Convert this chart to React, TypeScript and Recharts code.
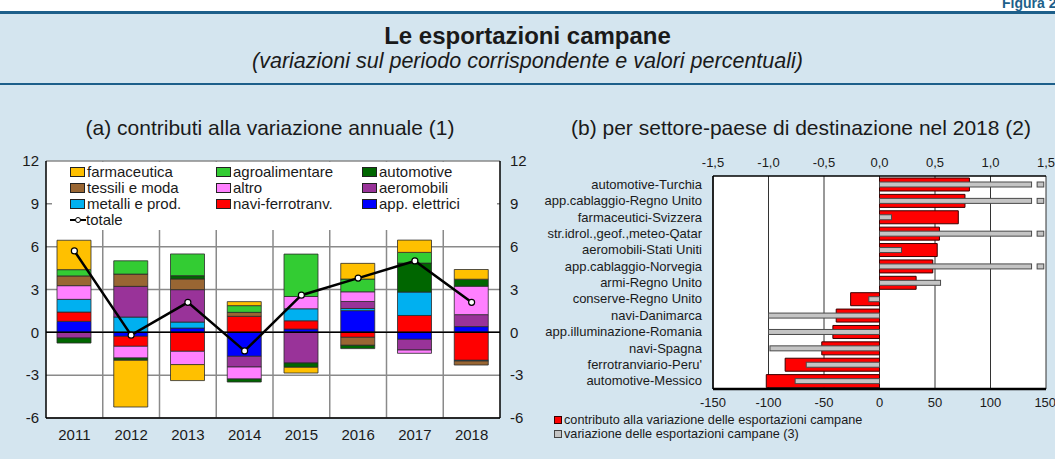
import React from 'react';
import {
  ComposedChart,
  Bar,
  Line,
  XAxis,
  YAxis,
  CartesianGrid,
  ReferenceLine,
} from 'recharts';

const FONT = '"Liberation Sans", Arial, Helvetica, sans-serif';
const BG = '#d4e5ef';
const NAVY = '#1d5f8a';
const INK = '#1a1a1a';

// (a) contributi alla variazione annuale
const years = ['2011', '2012', '2013', '2014', '2015', '2016', '2017', '2018'];
const elettrici = [0.77, -0.28, 0.3, -1.68, 0.23, 1.52, -0.49, 0.4];
const navi = [0.65, -0.7, -1.33, 1.12, 0.58, -0.35, 1.18, -1.96];
const metalli = [0.89, 1.07, 0.42, 0, 0.84, 0.15, 1.64, -0.05];
const aeromobili = [-0.4, 2.15, 2.27, -0.75, -2.15, 0.49, -0.75, 0.84];
const altro = [0.96, -0.82, -0.93, -0.84, 0.86, 0.68, -0.23, 1.99];
const tessili = [0.68, 0.86, 0.75, 0.28, 0, -0.56, 0, -0.28];
const automotive = [-0.35, -0.16, 0.23, -0.21, -0.3, -0.23, 2.03, 0.49];
const agroalimentare = [0.44, 0.93, 1.52, 0.47, 2.97, 0.89, 0.75, 0];
const farmaceutica = [2.06, -3.27, -1.12, 0.28, -0.4, 1.1, 0.86, 0.68];
const totale = [5.7, -0.2, 2.1, -1.3, 2.6, 3.8, 5.0, 2.1];
const leftTicks = [-6, -3, 0, 3, 6, 9, 12];

// (b) per settore-paese di destinazione nel 2018
const sectors = [
  'automotive-Turchia',
  'app.cablaggio-Regno Unito',
  'farmaceutici-Svizzera',
  'str.idrol.,geof.,meteo-Qatar',
  'aeromobili-Stati Uniti',
  'app.cablaggio-Norvegia',
  'armi-Regno Unito',
  'conserve-Regno Unito',
  'navi-Danimarca',
  'app.illuminazione-Romania',
  'navi-Spagna',
  "ferrotranviario-Peru'",
  'automotive-Messico',
];
const contributo = [0.81, 0.77, 0.71, 0.54, 0.52, 0.48, 0.33, -0.26, -0.39, -0.42, -0.52, -0.85, -1.02];
const variazione = [180, 175, 10.8, 170, 19.8, 190, 55, -9.6, -100, -100, -98.7, -66, -76];
const topTicks = [-1.5, -1, -0.5, 0, 0.5, 1, 1.5];
const bottomTicks = [-150, -100, -50, 0, 50, 100, 150];

// stacking order: first series sits next to zero
const SERIES = [
  { key: 'elettrici', name: 'app. elettrici', color: '#0000ff', values: elettrici },
  { key: 'navi', name: 'navi-ferrotranv.', color: '#ff0000', values: navi },
  { key: 'metalli', name: 'metalli e prod.', color: '#00b0f0', values: metalli },
  { key: 'aeromobili', name: 'aeromobili', color: '#993399', values: aeromobili },
  { key: 'altro', name: 'altro', color: '#ff80ff', values: altro },
  { key: 'tessili', name: 'tessili e moda', color: '#996633', values: tessili },
  { key: 'automotive', name: 'automotive', color: '#006600', values: automotive },
  { key: 'agroalimentare', name: 'agroalimentare', color: '#33cc33', values: agroalimentare },
  { key: 'farmaceutica', name: 'farmaceutica', color: '#ffc000', values: farmaceutica },
];

const LEGEND_ROWS = [
  ['farmaceutica', 'agroalimentare', 'automotive'],
  ['tessili', 'altro', 'aeromobili'],
  ['metalli', 'navi', 'elettrici'],
];

const leftData = years.map((year, i) => {
  const row: Record<string, number | string> = { year, totale: totale[i] };
  SERIES.forEach((s) => {
    row[s.key] = s.values[i];
  });
  return row;
});

const rightData = sectors.map((sector, i) => ({
  sector,
  contributo: contributo[i],
  variazione: variazione[i],
}));

const fmtComma = (v: number) => v.toFixed(1).replace('.', ',');

// grey bar: values beyond the axis are drawn broken
const BrokenBar = (props: any) => {
  const { x, y, width, height, payload, fill, stroke } = props;
  const v = payload?.variazione ?? 0;
  if (v > 150 && width > 0) {
    const ppu = width / v;
    return (
      <g>
        <rect x={x} y={y} width={137 * ppu} height={height} fill={fill} stroke={stroke} strokeWidth={1} />
        <rect x={x + 142 * ppu} y={y} width={6 * ppu} height={height} fill={fill} stroke={stroke} strokeWidth={1} />
      </g>
    );
  }
  const rx = Math.min(x, x + width);
  return <rect x={rx} y={y} width={Math.abs(width)} height={height} fill={fill} stroke={stroke} strokeWidth={1} />;
};

const boundaryLines = (props: any) => {
  const o = props?.offset;
  if (!o) return [];
  return years.slice(1).map((_, i) => o.left + ((i + 1) * o.width) / years.length);
};

const Swatch = ({ color }: { color: string }) => (
  <span
    style={{
      display: 'inline-block',
      width: 13,
      height: 8,
      background: color,
      border: '1px solid #222',
      marginRight: 2,
      verticalAlign: 'middle',
      position: 'relative',
      top: -1,
    }}
  />
);

const LeftLegend = () => (
  <div
    style={{
      position: 'absolute',
      left: 52,
      top: 162,
      width: 445,
      height: 68,
      background: '#fff',
      fontSize: 15,
      color: INK,
    }}
  >
    {LEGEND_ROWS.map((row, r) =>
      row.map((key, c) => {
        const s = SERIES.find((x) => x.key === key)!;
        return (
          <div
            key={key}
            style={{ position: 'absolute', left: 18 + c * 146, top: 2 + r * 16, lineHeight: '16px', whiteSpace: 'nowrap' }}
          >
            <Swatch color={s.color} />
            {s.name}
          </div>
        );
      })
    )}
    <div style={{ position: 'absolute', left: 18, top: 50, lineHeight: '16px' }}>
      <svg width={16} height={10} style={{ verticalAlign: 'middle', position: 'relative', top: -1 }}>
        <line x1={0} y1={5} x2={16} y2={5} stroke="#000" strokeWidth={2} />
        <circle cx={8} cy={5} r={2.5} fill="#fff" stroke="#000" strokeWidth={1} />
      </svg>
      totale
    </div>
  </div>
);

export default function App() {
  return (
    <div
      style={{
        position: 'absolute',
        left: 0,
        top: 0,
        width: 1055,
        height: 459,
        background: BG,
        fontFamily: FONT,
        overflow: 'hidden',
        color: INK,
      }}
    >
      <div style={{ position: 'absolute', left: 0, top: 0, width: 1055, height: 11, background: '#fff' }} />
      <div
        style={{
          position: 'absolute',
          left: 1002,
          top: -5,
          fontSize: 14,
          lineHeight: '16px',
          fontWeight: 'bold',
          color: NAVY,
          whiteSpace: 'nowrap',
        }}
      >
        Figura 2.13
      </div>
      <div style={{ position: 'absolute', left: 0, top: 11, width: 1055, height: 2.5, background: NAVY }} />
      <div style={{ position: 'absolute', left: 0, top: 83, width: 1055, height: 2, background: NAVY }} />
      <div
        style={{
          position: 'absolute',
          left: 0,
          top: 22,
          width: 1055,
          textAlign: 'center',
          fontSize: 24,
          lineHeight: '28px',
          fontWeight: 'bold',
        }}
      >
        Le esportazioni campane
      </div>
      <div
        style={{
          position: 'absolute',
          left: 0,
          top: 48,
          width: 1055,
          textAlign: 'center',
          fontSize: 21.5,
          lineHeight: '26px',
          fontStyle: 'italic',
        }}
      >
        (variazioni sul periodo corrispondente e valori percentuali)
      </div>
      <div
        style={{ position: 'absolute', left: 20, top: 116, width: 500, textAlign: 'center', fontSize: 21, lineHeight: '24px' }}
      >
        (a) contributi alla variazione annuale (1)
      </div>
      <div
        style={{ position: 'absolute', left: 551, top: 116, width: 500, textAlign: 'center', fontSize: 21, lineHeight: '24px' }}
      >
        (b) per settore-paese di destinazione nel 2018 (2)
      </div>

      <div style={{ position: 'absolute', left: 0, top: 0 }}>
        <ComposedChart
          width={540}
          height={459}
          data={leftData}
          stackOffset="sign"
          barSize={34}
          margin={{ top: 161, right: 0, bottom: 11, left: 6 }}
        >
          <CartesianGrid
            xAxisId="b"
            yAxisId="l"
            fill="#fff"
            stroke="#8a8a8a"
            strokeWidth={1.5}
            verticalCoordinatesGenerator={boundaryLines}
          />
          <XAxis
            xAxisId="b"
            dataKey="year"
            height={30}
            tickSize={0}
            tickMargin={11}
            axisLine={{ stroke: '#000', strokeWidth: 1.5 }}
            tick={{ fill: INK, fontSize: 15 }}
          />
          <XAxis
            xAxisId="t"
            orientation="top"
            dataKey="year"
            height={0}
            tick={false}
            tickLine={false}
            axisLine={{ stroke: '#000', strokeWidth: 1.5 }}
          />
          <YAxis
            yAxisId="l"
            domain={[-6, 12]}
            ticks={leftTicks}
            width={40}
            tickSize={0}
            tickMargin={7}
            axisLine={{ stroke: '#000', strokeWidth: 1.5 }}
            tick={{ fill: INK, fontSize: 15 }}
          />
          <YAxis
            yAxisId="r"
            orientation="right"
            domain={[-6, 12]}
            ticks={leftTicks}
            allowDataOverflow
            width={40}
            tickSize={0}
            tickMargin={10}
            axisLine={{ stroke: '#000', strokeWidth: 1.5 }}
            tick={{ fill: INK, fontSize: 15, textAnchor: 'start' }}
          />
          <ReferenceLine xAxisId="b" yAxisId="l" y={0} stroke="#000" strokeWidth={1.5} />
          {SERIES.map((s) => (
            <Bar
              key={s.key}
              xAxisId="b"
              yAxisId="l"
              dataKey={s.key}
              name={s.name}
              stackId="a"
              fill={s.color}
              stroke="#2b2b2b"
              strokeWidth={0.8}
              isAnimationActive={false}
            />
          ))}
          <Line
            xAxisId="b"
            yAxisId="l"
            dataKey="totale"
            stroke="#000"
            strokeWidth={2.5}
            dot={{ r: 3, fill: '#fff', stroke: '#000', strokeWidth: 1.2 }}
            isAnimationActive={false}
          />
        </ComposedChart>
      </div>
      <LeftLegend />

      <div style={{ position: 'absolute', left: 530, top: 140 }}>
        <ComposedChart
          layout="vertical"
          width={525}
          height={319}
          data={rightData}
          margin={{ top: 12, right: 9, bottom: 50, left: 5 }}
        >
          <CartesianGrid xAxisId="top" yAxisId="cat" horizontal={false} fill="#fff" stroke="#333" strokeWidth={1} />
          <XAxis
            xAxisId="top"
            orientation="top"
            type="number"
            domain={[-1.5, 1.5]}
            ticks={topTicks}
            allowDataOverflow
            height={24}
            tickSize={0}
            tickMargin={9}
            tickFormatter={fmtComma}
            axisLine={{ stroke: '#000', strokeWidth: 1.5 }}
            tick={{ fill: INK, fontSize: 13 }}
          />
          <XAxis
            xAxisId="bot"
            type="number"
            domain={[-150, 150]}
            ticks={bottomTicks}
            allowDataOverflow
            height={20}
            tickSize={0}
            tickMargin={9}
            axisLine={{ stroke: '#000', strokeWidth: 2.5 }}
            tick={{ fill: INK, fontSize: 13 }}
          />
          <YAxis
            yAxisId="cat"
            type="category"
            dataKey="sector"
            width={178}
            interval={0}
            tickSize={0}
            tickMargin={11}
            axisLine={{ stroke: '#000', strokeWidth: 1.5 }}
            tick={{ fill: INK, fontSize: 13 }}
          />
          <YAxis
            yAxisId="cat2"
            orientation="right"
            type="category"
            dataKey="sector"
            width={0}
            tick={false}
            tickLine={false}
            axisLine={{ stroke: '#000', strokeWidth: 1.5 }}
          />
          <Bar
            xAxisId="top"
            yAxisId="cat"
            dataKey="contributo"
            barSize={13}
            fill="#ff0000"
            stroke="#3a0000"
            strokeWidth={1}
            isAnimationActive={false}
          />
          <Bar
            xAxisId="bot"
            yAxisId="cat2"
            dataKey="variazione"
            barSize={5}
            fill="#c4c4c4"
            stroke="#4a4a4a"
            shape={<BrokenBar />}
            isAnimationActive={false}
          />
        </ComposedChart>
      </div>

      <div style={{ position: 'absolute', left: 554, top: 413, fontSize: 12.7, lineHeight: '14px', color: INK }}>
        <div>
          <span
            style={{ display: 'inline-block', width: 6, height: 6, background: '#ff0000', border: '1px solid #300', marginRight: 2 }}
          />
          contributo alla variazione delle esportazioni campane
        </div>
        <div>
          <span
            style={{ display: 'inline-block', width: 6, height: 6, background: '#c4c4c4', border: '1px solid #444', marginRight: 2 }}
          />
          variazione delle esportazioni campane (3)
        </div>
      </div>
    </div>
  );
}
